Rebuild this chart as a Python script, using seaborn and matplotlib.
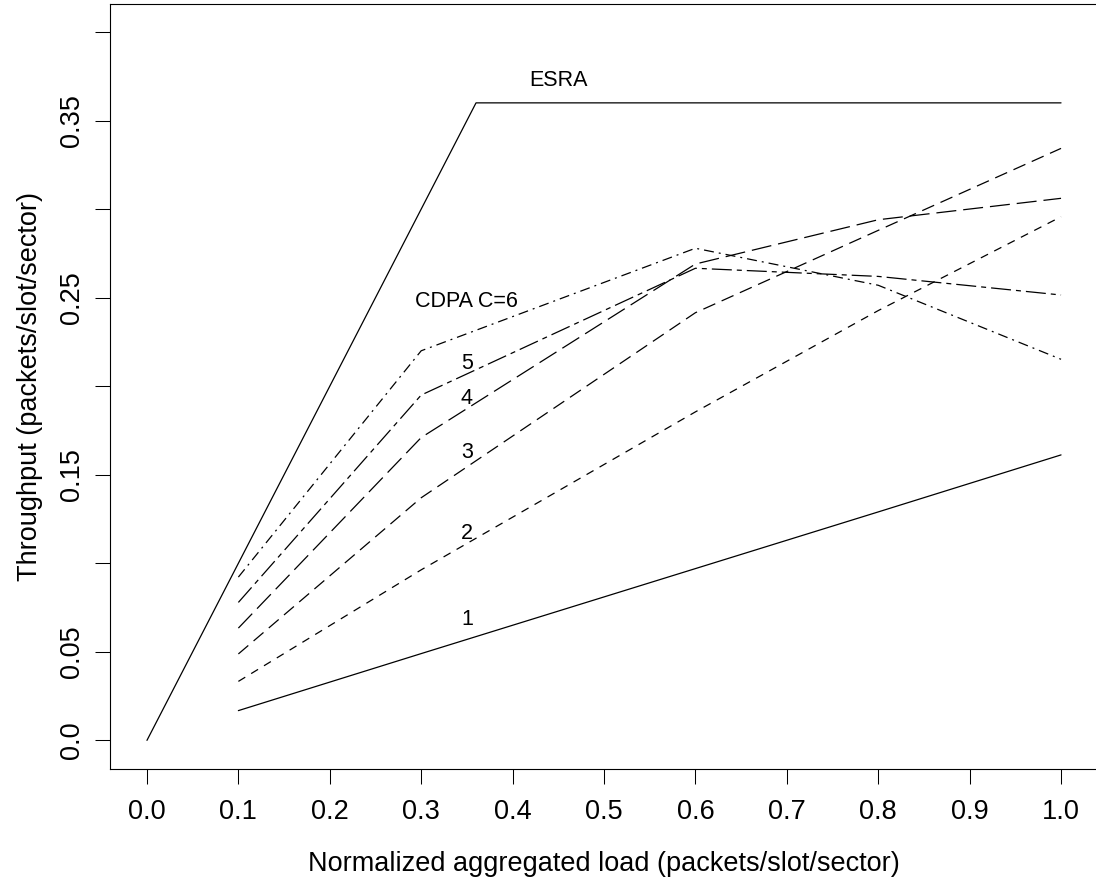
import numpy as np
import pandas as pd
import matplotlib
matplotlib.use("Agg")
import matplotlib.pyplot as plt
import seaborn as sns

# values
load = [0.1, 0.3, 0.6, 0.8, 1.0]
cdpa_1 = [0.0168, 0.049, 0.097, 0.129, 0.1612]
cdpa_2 = [0.0333, 0.0963, 0.1855, 0.2427, 0.2957]
cdpa_3 = [0.0488, 0.137, 0.2415, 0.288, 0.3343]
cdpa_4 = [0.0634, 0.171, 0.269, 0.294, 0.3061]
cdpa_5 = [0.0779, 0.195, 0.2666, 0.262, 0.2515]
cdpa_6 = [0.0922, 0.220, 0.2779, 0.257, 0.2152]
esra_load = [0.0, 0.36, 1.0]
esra_tp = [0.0, 0.36, 0.36]

label_names = ["ESRA", "CDPA C=6", "5", "4", "3", "2", "1"]
label_x = [0.45, 0.35, 0.35, 0.35, 0.35, 0.35, 0.35]
label_y = [0.3726, 0.2477, 0.2126, 0.193, 0.1628, 0.117, 0.0681]

xticks = [0.0, 0.1, 0.2, 0.3, 0.4, 0.5, 0.6, 0.7, 0.8, 0.9, 1.0]
yticks = [0.0, 0.05, 0.10, 0.15, 0.20, 0.25, 0.30, 0.35, 0.40]
ytick_labels = ["0.0", "0.05", "", "0.15", "", "0.25", "", "0.35", ""]

rows = []
for name, vals in [("1", cdpa_1), ("2", cdpa_2), ("3", cdpa_3),
                   ("4", cdpa_4), ("5", cdpa_5), ("6", cdpa_6)]:
    for x, y in zip(load, vals):
        rows.append({"load": x, "tp": y, "curve": name})
for x, y in zip(esra_load, esra_tp):
    rows.append({"load": x, "tp": y, "curve": "ESRA"})
df = pd.DataFrame(rows)

sns.set_style("ticks")
plt.rcParams["font.family"] = ["Liberation Sans", "DejaVu Sans"]
plt.rcParams["lines.scale_dashes"] = False
plt.rcParams["text.color"] = "black"
plt.rcParams["axes.labelcolor"] = "black"
plt.rcParams["xtick.color"] = "black"
plt.rcParams["ytick.color"] = "black"

# dash patterns in points (R-like line types)
dash_map = {
    "ESRA": "",
    "1": "",
    "2": (5.8, 5.0),
    "3": (9.4, 5.0),
    "4": (14.4, 5.0),
    "5": (14.4, 3.6, 3.6, 3.6),
    "6": (7.2, 3.6, 1.4, 3.6),
}

fig = plt.figure(figsize=(10.96, 8.84), dpi=100)
ax = fig.add_axes([110.4 / 1096, (884 - 768.7) / 884, 987.2 / 1096, 765.0 / 884])

sns.lineplot(data=df, x="load", y="tp", style="curve", dashes=dash_map,
             color="black", linewidth=0.9, legend=False, sort=False,
             estimator=None, ax=ax)

for name, x, y in zip(label_names, label_x, label_y):
    ax.text(x, y, name, ha="center", va="center", fontsize=15.5, color="black")

ax.set_xlim(-0.04, 1.04)
ax.set_ylim(-0.016, 0.416)
ax.set_xticks(xticks)
ax.set_xticklabels([f"{v:.1f}" for v in xticks])
ax.set_yticks(yticks)
ax.set_yticklabels(ytick_labels, rotation=90, va="center")

ax.tick_params(axis="both", direction="out", length=11, width=0.75,
               labelsize=19.5, color="black", labelcolor="black")
ax.tick_params(axis="x", pad=11)
ax.tick_params(axis="y", pad=7)
for sp in ax.spines.values():
    sp.set_linewidth(0.8)
    sp.set_color("black")

ax.set_xlabel("Normalized aggregated load (packets/slot/sector)", fontsize=19.5)
ax.set_ylabel("Throughput (packets/slot/sector)", fontsize=19.5)
ax.xaxis.set_label_coords(0.5, -0.107)
ax.yaxis.set_label_coords(-0.068, 0.5)

fig.savefig("out.png", dpi=100)
